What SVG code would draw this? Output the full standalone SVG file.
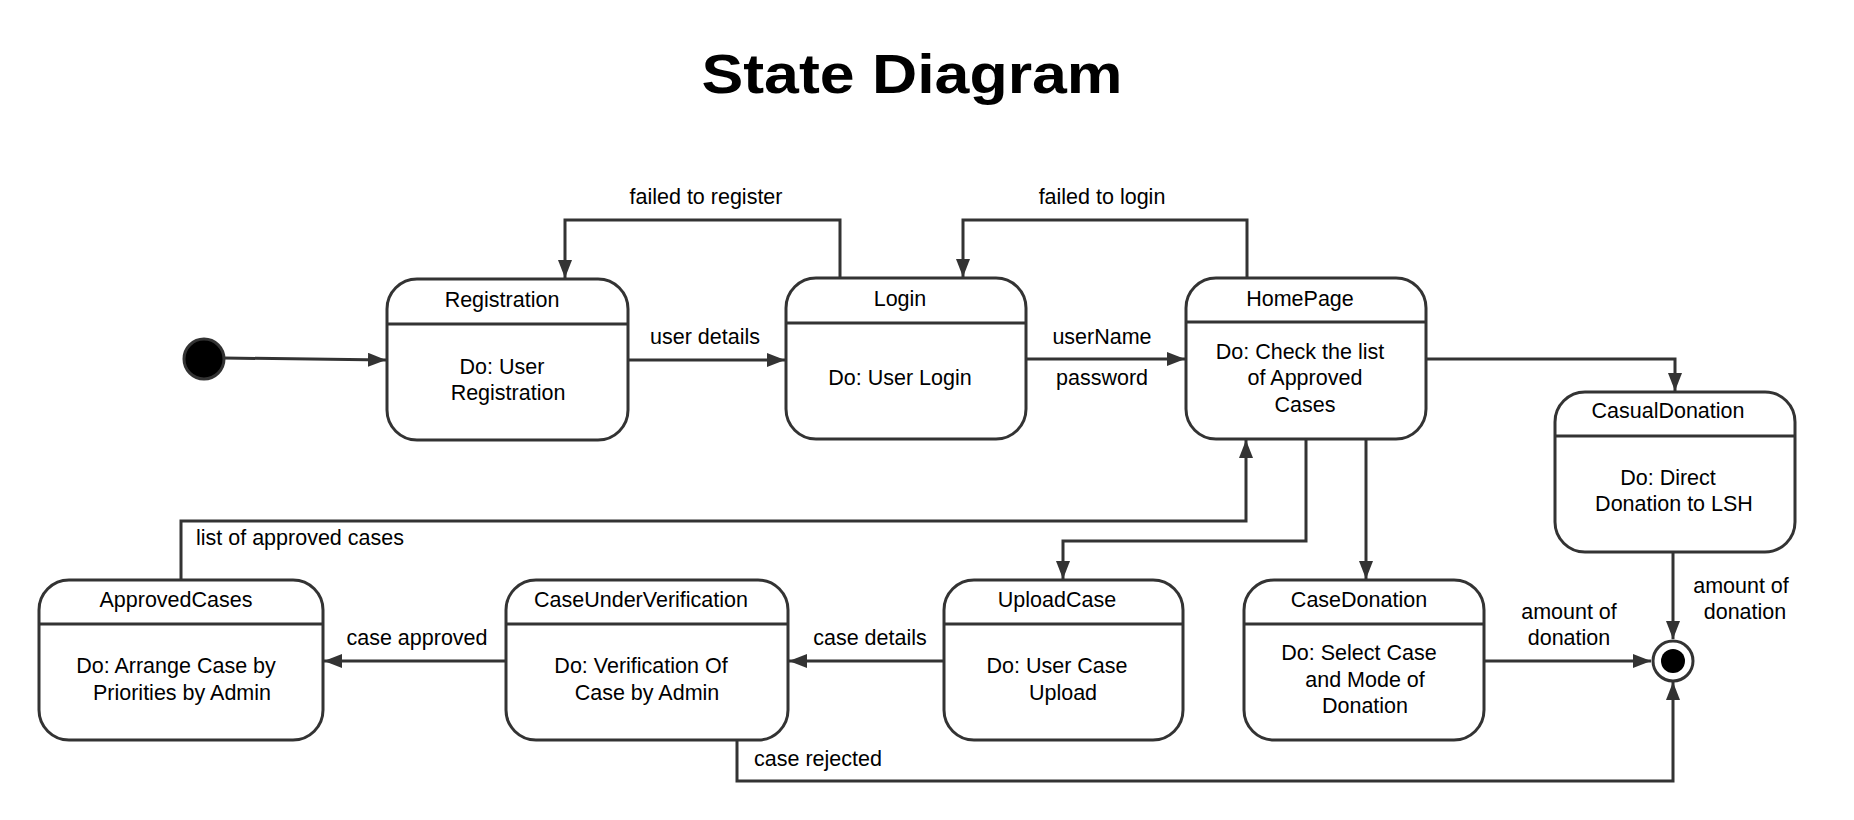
<svg xmlns="http://www.w3.org/2000/svg" width="1854" height="820" viewBox="0 0 1854 820">
<defs>
<marker id="arr" viewBox="0 0 18 14" refX="18" refY="7" markerWidth="18" markerHeight="14" markerUnits="userSpaceOnUse" orient="auto">
<path d="M0,0 L18,7 L0,14 z" fill="#333"/>
</marker>
</defs>
<style>
.box{fill:#fff;stroke:#333;stroke-width:3}
.div{stroke:#333;stroke-width:3}
.t{font-family:"Liberation Sans",Arial,sans-serif;font-size:21.5px;fill:#000;text-anchor:middle}
.lb{font-family:"Liberation Sans",Arial,sans-serif;font-size:21.5px;fill:#000}
.c{fill:none;stroke:#333;stroke-width:3;marker-end:url(#arr)}
</style>
<rect width="1854" height="820" fill="#fff"/>
<text x="912" y="93" font-family="Liberation Sans, Arial, sans-serif" font-weight="bold" font-size="55" text-anchor="middle" textLength="421" lengthAdjust="spacingAndGlyphs">State Diagram</text>

<g id="connectors">
<path class="c" d="M224,358 L386,360"/>
<path class="c" d="M840,278 V220 H565 V278"/>
<path class="c" d="M628,360 H785"/>
<path class="c" d="M1247,278 V220 H963 V277"/>
<path class="c" d="M1026,359 H1185"/>
<path class="c" d="M1426,359 H1675 V391"/>
<path class="c" d="M1306,439 V541 H1063 V579"/>
<path class="c" d="M1366,439 V579"/>
<path class="c" d="M181,580 V521 H1246 V440"/>
<path class="c" d="M944,661 H789"/>
<path class="c" d="M506,661 H324"/>
<path class="c" d="M737,740 V781 H1673 V682"/>
<path class="c" d="M1673,552 V639"/>
<path class="c" d="M1484,661 H1651"/>
<text class="t" x="706" y="204">failed to register</text>
<text class="t" x="1102" y="204">failed to login</text>
<text class="t" x="705" y="344">user details</text>
<text class="t" x="1102" y="344">userName</text>
<text class="t" x="1102" y="385">password</text>
<text class="lb" x="196" y="545">list of approved cases</text>
<text class="t" x="417" y="645">case approved</text>
<text class="t" x="870" y="645">case details</text>
<text class="lb" x="754" y="766">case rejected</text>
<text class="t" x="1569" y="619">amount of</text>
<text class="t" x="1569" y="645">donation</text>
<text class="t" x="1741" y="593">amount of</text>
<text class="t" x="1745" y="619">donation</text>
</g>

<g id="initial">
<circle cx="204" cy="359" r="20" fill="#000" stroke="#333" stroke-width="3"/>
</g>

<g id="final">
<circle cx="1673" cy="661" r="20" fill="#fff" stroke="#333" stroke-width="3"/>
<circle cx="1673" cy="661" r="12" fill="#000"/>
</g>

<g id="registration">
<rect class="box" x="387" y="279" width="241" height="161" rx="30"/>
<line class="div" x1="387" y1="324" x2="628" y2="324"/>
<text class="t" x="502" y="307">Registration</text>
<text class="t" x="502" y="374">Do: User</text>
<text class="t" x="508" y="400">Registration</text>
</g>

<g id="login">
<rect class="box" x="786" y="278" width="240" height="161" rx="30"/>
<line class="div" x1="786" y1="323" x2="1026" y2="323"/>
<text class="t" x="900" y="306">Login</text>
<text class="t" x="900" y="385">Do: User Login</text>
</g>

<g id="homepage">
<rect class="box" x="1186" y="278" width="240" height="161" rx="30"/>
<line class="div" x1="1186" y1="322" x2="1426" y2="322"/>
<text class="t" x="1300" y="306">HomePage</text>
<text class="t" x="1300" y="359">Do: Check the list</text>
<text class="t" x="1305" y="385">of Approved</text>
<text class="t" x="1305" y="412">Cases</text>
</g>

<g id="casualdonation">
<rect class="box" x="1555" y="392" width="240" height="160" rx="30"/>
<line class="div" x1="1555" y1="436" x2="1795" y2="436"/>
<text class="t" x="1668" y="418">CasualDonation</text>
<text class="t" x="1668" y="485">Do: Direct</text>
<text class="t" x="1674" y="511">Donation to LSH</text>
</g>

<g id="approvedcases">
<rect class="box" x="39" y="580" width="284" height="160" rx="30"/>
<line class="div" x1="39" y1="624" x2="323" y2="624"/>
<text class="t" x="176" y="607">ApprovedCases</text>
<text class="t" x="176" y="673">Do: Arrange Case by</text>
<text class="t" x="182" y="700">Priorities by Admin</text>
</g>

<g id="caseunderverification">
<rect class="box" x="506" y="580" width="282" height="160" rx="30"/>
<line class="div" x1="506" y1="624" x2="788" y2="624"/>
<text class="t" x="641" y="607">CaseUnderVerification</text>
<text class="t" x="641" y="673">Do: Verification Of</text>
<text class="t" x="647" y="700">Case by Admin</text>
</g>

<g id="uploadcase">
<rect class="box" x="944" y="580" width="239" height="160" rx="30"/>
<line class="div" x1="944" y1="624" x2="1183" y2="624"/>
<text class="t" x="1057" y="607">UploadCase</text>
<text class="t" x="1057" y="673">Do: User Case</text>
<text class="t" x="1063" y="700">Upload</text>
</g>

<g id="casedonation">
<rect class="box" x="1244" y="580" width="240" height="160" rx="30"/>
<line class="div" x1="1244" y1="624" x2="1484" y2="624"/>
<text class="t" x="1359" y="607">CaseDonation</text>
<text class="t" x="1359" y="660">Do: Select Case</text>
<text class="t" x="1365" y="687">and Mode of</text>
<text class="t" x="1365" y="713">Donation</text>
</g>
</svg>
